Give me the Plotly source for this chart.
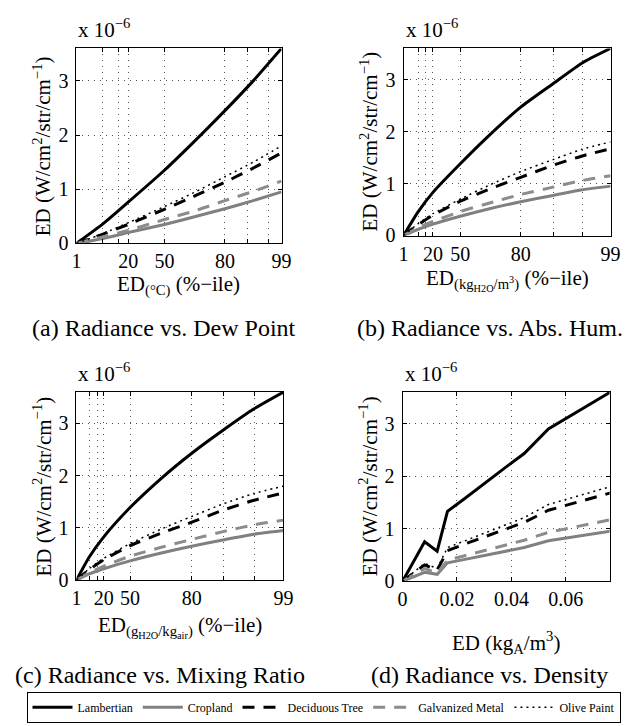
import plotly.graph_objects as go

FONT = "Liberation Serif, Times New Roman, serif"

SERIES = ["Lambertian", "Cropland", "Deciduous Tree", "Galvanized Metal", "Olive Paint"]

# Percentile tick labels (labelled: 1,20,50,80,99; unlabelled grid at 5,10,90,95)
PCT_TEXT = ["1", "20", "50", "80", "99"]

# ---- (a) Radiance vs. Dew Point : x = ED value, normalised over the 1st..99th percentile range
DEW_TICKS = [0, 0.252, 0.429, 0.724, 1]
DEW_MINOR = [0.129, 0.205, 0.833, 0.938]
DEW_X = [0, 0.129, 0.252, 0.429, 0.585, 0.724, 0.862, 1]
DEW_LAMB = [0, 0.36, 0.76, 1.35, 1.92, 2.45, 3.00, 3.60]
DEW_CROP = [0, 0.09, 0.20, 0.35, 0.50, 0.64, 0.79, 0.95]
DEW_DECI = [0, 0.17, 0.35, 0.63, 0.89, 1.13, 1.39, 1.67]
DEW_GALV = [0, 0.12, 0.24, 0.44, 0.61, 0.79, 0.96, 1.15]
DEW_OLIV = [0, 0.18, 0.38, 0.68, 0.96, 1.23, 1.50, 1.80]

# ---- (b) Radiance vs. Abs. Hum.
ABS_TICKS = [0, 0.142, 0.274, 0.566, 1]
ABS_MINOR = [0.071, 0.108, 0.722, 0.863]
ABS_X = [0, 0.071, 0.142, 0.274, 0.42, 0.566, 0.722, 0.863, 1]
ABS_LAMB = [0, 0.46, 0.83, 1.38, 1.95, 2.47, 2.92, 3.32, 3.60]
ABS_CROP = [0, 0.12, 0.22, 0.37, 0.52, 0.65, 0.77, 0.88, 0.95]
ABS_DECI = [0, 0.21, 0.39, 0.66, 0.90, 1.12, 1.35, 1.53, 1.67]
ABS_GALV = [0, 0.15, 0.27, 0.46, 0.63, 0.79, 0.93, 1.06, 1.15]
ABS_OLIV = [0, 0.23, 0.42, 0.70, 0.98, 1.23, 1.46, 1.66, 1.80]

# ---- (c) Radiance vs. Mixing Ratio
MIX_TICKS = [0, 0.132, 0.259, 0.557, 1]
MIX_MINOR = [0.061, 0.104, 0.708, 0.858]
MIX_X = [0, 0.061, 0.132, 0.259, 0.41, 0.557, 0.708, 0.858, 1]
MIX_LAMB = [0, 0.44, 0.83, 1.39, 1.95, 2.43, 2.87, 3.28, 3.60]
MIX_CROP = [0, 0.12, 0.22, 0.37, 0.52, 0.65, 0.77, 0.88, 0.95]
MIX_DECI = [0, 0.20, 0.39, 0.66, 0.90, 1.11, 1.34, 1.53, 1.67]
MIX_GALV = [0, 0.14, 0.27, 0.46, 0.63, 0.78, 0.93, 1.06, 1.15]
MIX_OLIV = [0, 0.22, 0.42, 0.70, 0.98, 1.22, 1.46, 1.66, 1.80]

# ---- (d) Radiance vs. Density (kg_A/m^3)
DEN_X = [0, 0.0081, 0.0127, 0.0165, 0.0225, 0.0300, 0.0392, 0.0447, 0.0536, 0.0764]
DEN_LAMB = [0, 0.75, 0.57, 1.33, 1.56, 1.86, 2.22, 2.43, 2.90, 3.60]
DEN_CROP = [0, 0.17, 0.13, 0.35, 0.41, 0.49, 0.58, 0.64, 0.77, 0.95]
DEN_DECI = [0, 0.31, 0.21, 0.58, 0.70, 0.84, 1.01, 1.12, 1.35, 1.68]
DEN_GALV = [0, 0.24, 0.15, 0.40, 0.48, 0.58, 0.70, 0.78, 0.93, 1.17]
DEN_OLIV = [0, 0.34, 0.24, 0.64, 0.76, 0.91, 1.09, 1.21, 1.46, 1.80]
DEN_TICKS = [0, 0.02, 0.04, 0.06]
DEN_TEXT = ["0", "0.02", "0.04", "0.06"]

Y_TICKS = [0, 1, 2, 3]

STYLES = {
    "Lambertian": dict(color="black", width=3, dash="solid"),
    "Cropland": dict(color="#808080", width=3, dash="solid"),
    "Deciduous Tree": dict(color="black", width=3, dash="12px,9px"),
    "Galvanized Metal": dict(color="#8c8c8c", width=3, dash="12px,9px"),
    "Olive Paint": dict(color="black", width=1.5, dash="2px,4px"),
}

panels = [
    dict(x=DEW_X, ys=[DEW_LAMB, DEW_CROP, DEW_DECI, DEW_GALV, DEW_OLIV], ticks=DEW_TICKS, text=PCT_TEXT,
         minor=DEW_MINOR, rng=[0, 1], dom_px=(65, 275, 41, 239), shape="spline",
         title="ED<sub>(°C)</sub> (%−ile)", title_top=266,
         caption="(a) Radiance vs. Dew Point", cap=(155, 325)),
    dict(x=ABS_X, ys=[ABS_LAMB, ABS_CROP, ABS_DECI, ABS_GALV, ABS_OLIV], ticks=ABS_TICKS, text=PCT_TEXT,
         minor=ABS_MINOR, rng=[0, 1], dom_px=(400, 612, 41, 231), shape="spline",
         title="ED<sub>(kg<sub>H2O</sub>/m<sup>3</sup>)</sub> (%−ile)", title_top=260,
         caption="(b) Radiance vs. Abs. Hum.", cap=(489, 325)),
    dict(x=MIX_X, ys=[MIX_LAMB, MIX_CROP, MIX_DECI, MIX_GALV, MIX_OLIV], ticks=MIX_TICKS, text=PCT_TEXT,
         minor=MIX_MINOR, rng=[0, 1], dom_px=(65, 277, 390, 581), shape="spline",
         title="ED<sub>(g<sub>H2O</sub>/kg<sub>air</sub>)</sub> (%−ile)", title_top=612,
         caption="(c) Radiance vs. Mixing Ratio", cap=(151, 677)),
    dict(x=DEN_X, ys=[DEN_LAMB, DEN_CROP, DEN_DECI, DEN_GALV, DEN_OLIV], ticks=DEN_TICKS, text=DEN_TEXT,
         minor=None, rng=[0, 0.0761], dom_px=(399, 611, 390, 582), shape="linear",
         title="ED (kg<sub>A</sub>/m<sup>3</sup>)", title_top=627,
         caption="(d) Radiance vs. Density", cap=(488, 677)),
]

W, H = 636, 726
fig = go.Figure()
annotations = []

for i, p in enumerate(panels):
    n = "" if i == 0 else str(i + 1)
    xa, ya = "x" + n, "y" + n
    for name, y in zip(SERIES, p["ys"]):
        st = STYLES[name]
        fig.add_trace(go.Scatter(
            x=p["x"], y=y, mode="lines", name=name, xaxis=xa, yaxis=ya,
            line=dict(color=st["color"], width=st["width"], dash=st["dash"],
                      shape=p["shape"], smoothing=0.6 if p["shape"] == "spline" else None),
            showlegend=(i == 0), hoverinfo="skip"))
    l, r, t, b = p["dom_px"]
    axis_common = dict(showline=True, linecolor="black", linewidth=1, mirror="ticks",
                       ticks="inside", ticklen=4, tickcolor="black", zeroline=False,
                       showgrid=True, gridcolor="#555555", griddash="1px,5px", gridwidth=1,
                       tickfont=dict(family=FONT, size=20, color="black"))
    xaxis = dict(domain=[l / W, r / W], range=p["rng"], anchor=ya,
                 tickmode="array", tickvals=p["ticks"], ticktext=p["text"], **axis_common)
    if p["minor"]:
        xaxis["minor"] = dict(tickmode="array", tickvals=p["minor"], ticks="inside", ticklen=4,
                              tickcolor="black", showgrid=True, gridcolor="#555555",
                              griddash="1px,5px", gridwidth=1)
    fig.update_layout(**{
        ("xaxis" + n): xaxis,
        ("yaxis" + n): dict(domain=[1 - b / H, 1 - t / H], range=[0, 3.6], anchor=xa,
                            tickmode="array", tickvals=Y_TICKS, ticktext=[str(v) for v in Y_TICKS],
                            ticklabelstandoff=3, **axis_common),
    })
    # x axis title
    annotations.append(dict(xref=xa + " domain", yref=ya + " domain", x=0.5, y=0,
                            xanchor="center", yanchor="top", yshift=-(p["title_top"] - b),
                            text=p["title"], showarrow=False,
                            font=dict(family=FONT, size=21, color="black")))
    # y axis title
    annotations.append(dict(xref=xa + " domain", yref=ya + " domain", x=0, y=0.5,
                            xanchor="center", yanchor="middle", xshift=-34, textangle=-90,
                            text="ED (W/cm<sup>2</sup>/str/cm<sup>−1</sup>)", showarrow=False,
                            font=dict(family=FONT, size=21, color="black")))
    # exponent label
    annotations.append(dict(xref=xa + " domain", yref=ya + " domain", x=0, y=1,
                            xanchor="left", yanchor="bottom", yshift=4,
                            text="x 10<sup>−6</sup>", showarrow=False,
                            font=dict(family=FONT, size=21, color="black")))
    # caption
    cx, cy = p["cap"]
    annotations.append(dict(xref="paper", yref="paper", x=cx / W, y=1 - cy / H,
                            xanchor="center", yanchor="middle", text=p["caption"], showarrow=False,
                            font=dict(family=FONT, size=24, color="black")))

fig.update_layout(
    width=W, height=H, margin=dict(l=0, r=0, t=0, b=0),
    paper_bgcolor="white", plot_bgcolor="white",
    annotations=annotations,
    legend=dict(orientation="h", x=0.5, xanchor="center", y=1 - 710 / H, yanchor="middle",
                bordercolor="black", borderwidth=1, bgcolor="white",
                font=dict(family=FONT, size=12, color="black"), itemwidth=40,
                tracegroupgap=0),
)

fig.write_html("out.html")
